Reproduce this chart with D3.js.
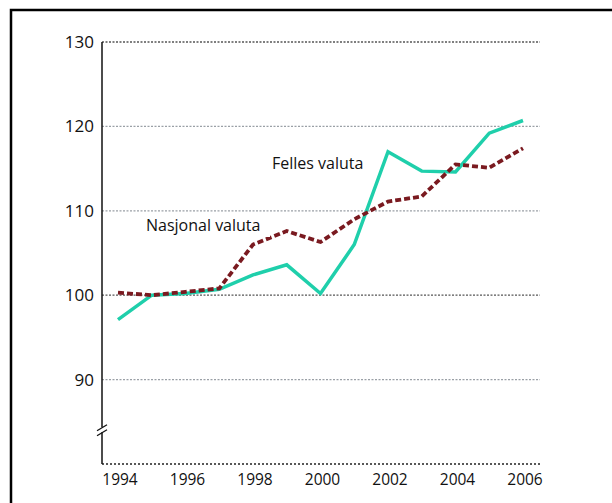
<!DOCTYPE html>
<html>
<head>
<meta charset="utf-8">
<script src="https://cdn.jsdelivr.net/npm/d3@7"></script>
<style>
  body { margin: 0; background: #fff; }
  svg text { font-family: "Open Sans", "Noto Sans", sans-serif; fill: #111; }
</style>
</head>
<body>
<svg id="chart" width="612" height="503"></svg>
<script>
// data
var years = [1994, 1995, 1996, 1997, 1998, 1999, 2000, 2001, 2002, 2003, 2004, 2005, 2006];
var felles = [97.1, 100.0, 100.2, 100.7, 102.4, 103.6, 100.2, 106.0, 117.0, 114.7, 114.6, 119.2, 120.7];
var nasjonal = [100.3, 100.0, 100.4, 100.8, 106.0, 107.6, 106.3, 109.0, 111.1, 111.7, 115.5, 115.1, 117.4];
var yTicks = [90, 100, 110, 120, 130];
var xTicks = [1994, 1996, 1998, 2000, 2002, 2004, 2006];

var svg = d3.select("#chart");

// outer frame (right and bottom edges run off the picture)
svg.append("rect")
  .attr("x", 11).attr("y", 10)
  .attr("width", 640).attr("height", 540)
  .attr("fill", "none").attr("stroke", "#000").attr("stroke-width", 2.5);

var plotLeft = 102, plotRight = 540, plotTop = 42, plotBottom = 464;

var x = d3.scaleLinear().domain([1994, 2006]).range([118, 523]);
var y = d3.scaleLinear().domain([80, 130]).range([plotBottom, plotTop]);

// gridlines
svg.selectAll(".grid").data(yTicks)
  .enter().append("line")
  .attr("x1", plotLeft).attr("x2", plotRight)
  .attr("y1", d => y(d)).attr("y2", d => y(d))
  .attr("stroke", d => (d === 100 || d === 130) ? "#555" : "#9aa0a6")
  .attr("stroke-width", 1.3)
  .attr("stroke-dasharray", "2,1.5");

// baseline (dotted)
svg.append("line")
  .attr("x1", plotLeft).attr("x2", plotRight)
  .attr("y1", plotBottom).attr("y2", plotBottom)
  .attr("stroke", "#222").attr("stroke-width", 1.3)
  .attr("stroke-dasharray", "2,2");

// y axis line
svg.append("line")
  .attr("x1", plotLeft).attr("x2", plotLeft)
  .attr("y1", plotTop).attr("y2", plotBottom)
  .attr("stroke", "#111").attr("stroke-width", 1.5);

// axis break
var by = y(84);
svg.append("rect").attr("x", plotLeft - 3).attr("y", by - 3).attr("width", 6).attr("height", 5).attr("fill", "#fff");
[-2.5, 2.5].forEach(function(o) {
  svg.append("line")
    .attr("x1", plotLeft - 5).attr("x2", plotLeft + 5)
    .attr("y1", by + o + 3).attr("y2", by + o - 3)
    .attr("stroke", "#111").attr("stroke-width", 1.3);
});

// tick labels
svg.selectAll(".ylab").data(yTicks)
  .enter().append("text")
  .attr("x", 94).attr("y", d => y(d) + 6)
  .attr("text-anchor", "end")
  .style("font-size", "17px")
  .text(d => d);

svg.selectAll(".xlab").data(xTicks)
  .enter().append("text")
  .attr("x", d => x(d) + 2).attr("y", 485)
  .attr("text-anchor", "middle")
  .style("font-size", "15.5px")
  .text(d => d);

var line = d3.line()
  .x((d, i) => x(years[i]))
  .y(d => y(d));

svg.append("path").datum(felles)
  .attr("d", line)
  .attr("fill", "none")
  .attr("stroke", "#1fcfab")
  .attr("stroke-width", 3.5)
  .attr("stroke-linejoin", "miter");

svg.append("path").datum(nasjonal)
  .attr("d", line)
  .attr("fill", "none")
  .attr("stroke", "#7a1a20")
  .attr("stroke-width", 3.8)
  .attr("stroke-dasharray", "6,3");

// series labels
svg.append("rect").attr("x", 143).attr("y", 215).attr("width", 127).attr("height", 22).attr("fill", "#fff");
svg.append("text").attr("x", 146).attr("y", 231).style("font-size", "16px").text("Nasjonal valuta");
svg.append("text").attr("x", 272).attr("y", 169).style("font-size", "16px").text("Felles valuta");
</script>
</body>
</html>
